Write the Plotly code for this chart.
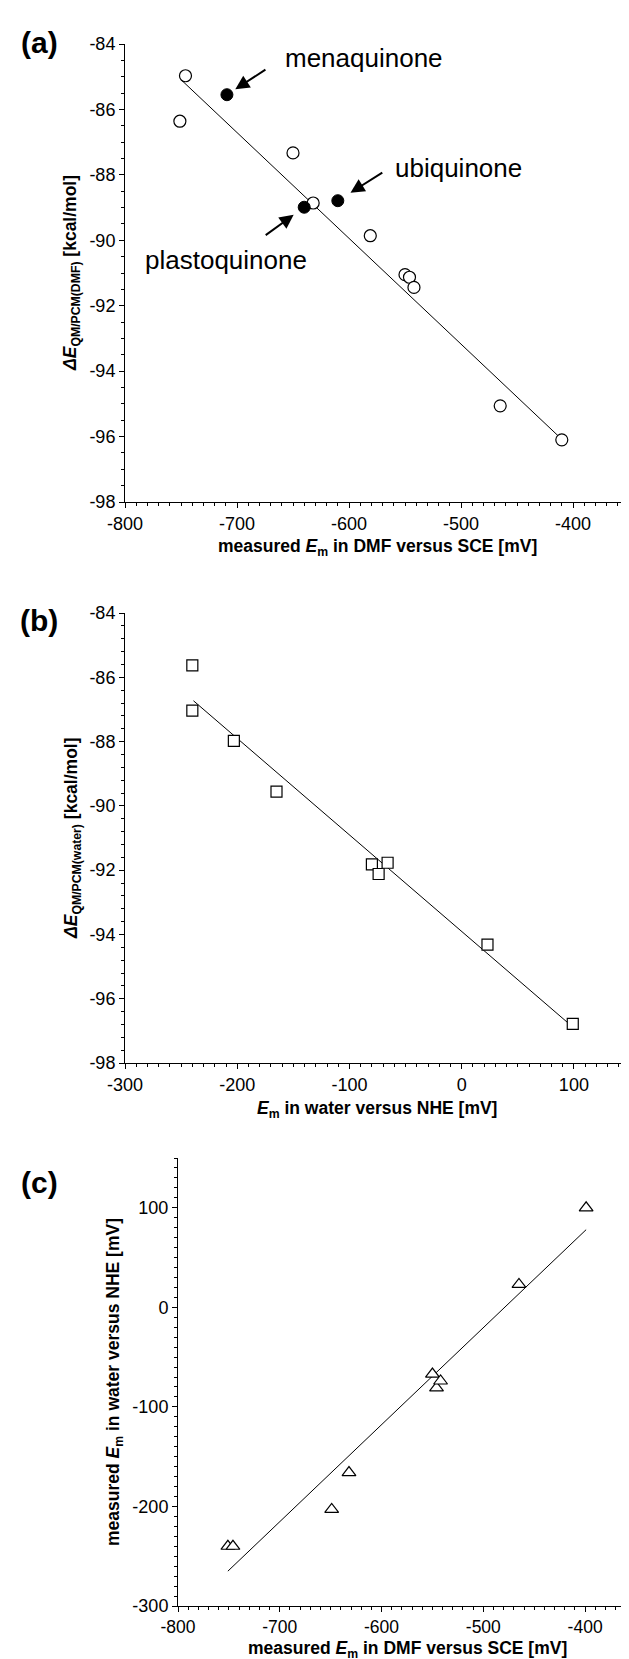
import plotly.graph_objects as go

# ---------------- data ----------------
# panel (a): measured Em in DMF vs SCE [mV] / dE QM/PCM(DMF) [kcal/mol]
a_open_x = [-746, -751, -650, -632, -581, -550, -546, -542, -465, -410]
a_open_y = [-84.97, -86.36, -87.33, -88.86, -89.86, -91.05, -91.13, -91.44, -95.06, -96.10]
a_filled_names = ["menaquinone", "plastoquinone", "ubiquinone"]
a_filled_x = [-709, -640, -610]
a_filled_y = [-85.55, -88.99, -88.79]
a_fit_x = [-750, -411]
a_fit_y = [-85.09, -96.05]

# panel (b): Em in water vs NHE [mV] / dE QM/PCM(water) [kcal/mol]
b_x = [-240, -240, -203, -165, -80, -74, -66, 23, 99]
b_y = [-85.63, -87.04, -87.98, -89.56, -91.82, -92.12, -91.77, -94.32, -96.78]
b_fit_x = [-239, 99]
b_fit_y = [-86.73, -96.88]

# panel (c): measured Em in DMF vs SCE / measured Em in water vs NHE [mV]
c_x = [-751, -746, -649, -632, -550, -546, -542, -465, -399]
c_y = [-240, -240, -203, -166, -67, -81, -74, 23, 100]
c_fit_x = [-751, -399]
c_fit_y = [-265, 78]

# tick labels
dmf_ticks = [-800, -700, -600, -500, -400]
water_x_ticks = [-300, -200, -100, 0, 100]
de_ticks = [-98, -96, -94, -92, -90, -88, -86, -84]
water_y_ticks = [-300, -200, -100, 0, 100]


def lab(v):
    return str(v)


FONT = "Liberation Sans, Arial, sans-serif"
W, H = 629, 1659

fig = go.Figure()

# ---- panel a ----
fig.add_trace(go.Scatter(x=a_fit_x, y=a_fit_y, mode="lines",
                         line=dict(color="black", width=1), xaxis="x", yaxis="y",
                         showlegend=False, hoverinfo="skip"))
fig.add_trace(go.Scatter(x=a_open_x, y=a_open_y, mode="markers",
                         marker=dict(symbol="circle", size=12, color="white",
                                     line=dict(color="black", width=1.2)),
                         xaxis="x", yaxis="y", showlegend=False))
fig.add_trace(go.Scatter(x=a_filled_x, y=a_filled_y, mode="markers",
                         marker=dict(symbol="circle", size=12, color="black",
                                     line=dict(color="black", width=1)),
                         text=a_filled_names,
                         xaxis="x", yaxis="y", showlegend=False))

# ---- panel b ----
fig.add_trace(go.Scatter(x=b_fit_x, y=b_fit_y, mode="lines",
                         line=dict(color="black", width=1), xaxis="x2", yaxis="y2",
                         showlegend=False, hoverinfo="skip"))
fig.add_trace(go.Scatter(x=b_x, y=b_y, mode="markers",
                         marker=dict(symbol="square", size=11, color="white",
                                     line=dict(color="black", width=1.2)),
                         xaxis="x2", yaxis="y2", showlegend=False))

# ---- panel c ----
fig.add_trace(go.Scatter(x=c_fit_x, y=c_fit_y, mode="lines",
                         line=dict(color="black", width=1), xaxis="x3", yaxis="y3",
                         showlegend=False, hoverinfo="skip"))
fig.add_trace(go.Scatter(x=c_x, y=c_y, mode="markers",
                         marker=dict(symbol="triangle-up", size=12, color="white",
                                     line=dict(color="black", width=1.2)),
                         xaxis="x3", yaxis="y3", showlegend=False))


def axis_common(rng, tickvals, minor_dtick, domain, anchor, fsize=18):
    return dict(
        range=rng, domain=domain, anchor=anchor,
        tickmode="array", tickvals=tickvals, ticktext=[lab(v) for v in tickvals],
        ticks="outside", ticklen=5, tickwidth=1, tickcolor="black",
        minor=dict(dtick=minor_dtick, tick0=rng[0], ticks="outside", ticklen=3,
                   tickwidth=1, tickcolor="black", showgrid=False),
        showline=True, linecolor="black", linewidth=1,
        showgrid=False, zeroline=False,
        tickfont=dict(family=FONT, size=fsize, color="black"),
        automargin=False,
    )


def px_x(p):
    return p / W


def px_y(p):
    return 1 - p / H


xa_title = "<b>measured <i>E</i><sub>m</sub> in DMF versus SCE [mV]</b>"
xb_title = "<b><i>E</i><sub>m</sub> in water versus NHE [mV]</b>"
ya_title = "<b><i>ΔE</i><sub>QM/PCM(DMF)</sub> [kcal/mol]</b>"
yb_title = "<b><i>ΔE</i><sub>QM/PCM(water)</sub> [kcal/mol]</b>"
yc_title = "<b>measured <i>E</i><sub>m</sub> in water versus NHE [mV]</b>"

fig.update_layout(
    width=W, height=H,
    margin=dict(l=0, r=0, t=0, b=0),
    paper_bgcolor="white", plot_bgcolor="white",
    font=dict(family=FONT, color="black"),
    xaxis=axis_common([-800, -350], dmf_ticks, 10, [px_x(117), px_x(621)], "y"),
    yaxis=axis_common([-98, -84], de_ticks, 0.5, [px_y(494), px_y(36)], "x"),
    xaxis2=axis_common([-300, 150], water_x_ticks, 10, [px_x(117), px_x(622)], "y2"),
    yaxis2=axis_common([-98, -84], de_ticks, 0.4, [px_y(1055), px_y(605)], "x2"),
    xaxis3=axis_common([-800, -350], dmf_ticks, 10, [px_x(170), px_x(628)], "y3", 17.5),
    yaxis3=axis_common([-300, 150], water_y_ticks, 10, [px_y(1598), px_y(1150)], "x3"),
)

annotations = []
TF = dict(family=FONT, size=17.5, color="black")
# axis titles (placed in paper coordinates)
for txt, xc, yc in [(xa_title, 369, 539), (xb_title, 369, 1101), (xa_title, 399, 1641)]:
    annotations.append(dict(text=txt, xref="paper", yref="paper", x=px_x(xc), y=px_y(yc),
                            xanchor="center", yanchor="middle", showarrow=False, font=TF))
for txt, xc, yc in [(ya_title, 64, 265), (yb_title, 64, 830), (yc_title, 106, 1374)]:
    annotations.append(dict(text=txt, xref="paper", yref="paper", x=px_x(xc), y=px_y(yc),
                            xanchor="center", yanchor="middle", textangle=-90,
                            showarrow=False, font=TF))

# panel letters
for txt, yc in [("(a)", 35), ("(b)", 612), ("(c)", 1174)]:
    annotations.append(dict(text=f"<b>{txt}</b>", xref="paper", yref="paper",
                            x=px_x(31), y=px_y(yc), xanchor="center", yanchor="middle",
                            showarrow=False, font=dict(family=FONT, size=30, color="black")))

# arrows and labels pointing at filled points (offsets in pixels relative to each point)
arrow_tail = {"menaquinone": (40, -26), "ubiquinone": (46, -29), "plastoquinone": (-40, 29)}
arrow_stand = {"menaquinone": 10, "ubiquinone": 15, "plastoquinone": 13}
label_shift = {"menaquinone": (137, 37), "ubiquinone": (121, 33), "plastoquinone": (-78, -53)}
for name, xv, yv in zip(a_filled_names, a_filled_x, a_filled_y):
    tx, ty = arrow_tail[name]
    annotations.append(dict(x=xv, y=yv, xref="x", yref="y", ax=tx, ay=ty,
                            axref="pixel", ayref="pixel", text="", showarrow=True,
                            arrowhead=2, arrowsize=1.4, arrowwidth=2, arrowcolor="black",
                            standoff=arrow_stand[name]))
    sx, sy = label_shift[name]
    annotations.append(dict(x=xv, y=yv, xref="x", yref="y", text=name, showarrow=False,
                            xshift=sx, yshift=sy, xanchor="center", yanchor="middle",
                            font=dict(family=FONT, size=26, color="black")))

fig.update_layout(annotations=annotations)

fig.write_html("out.html")
